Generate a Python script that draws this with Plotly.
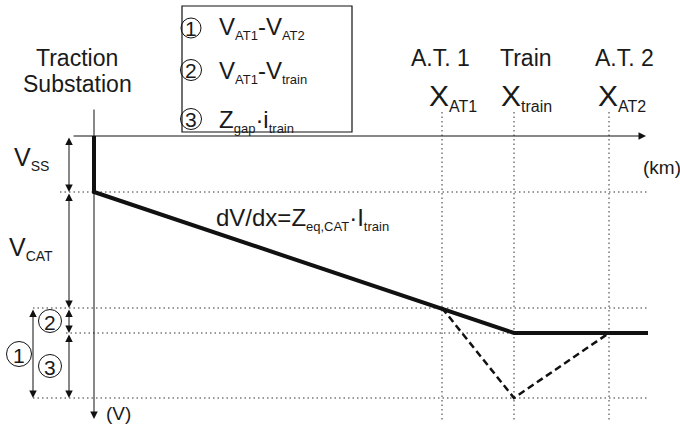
import plotly.graph_objects as go

# ---- schematic data (x in km-like units, y = voltage drop units, downward) ----
station_names = ["A.T. 1", "Train", "A.T. 2"]
station_x = [34.8, 42.0, 51.5]          # X_AT1, X_train, X_AT2
line_end_x = 55.4
v_ss = 5.6        # substation drop
v_at1 = 17.2      # voltage level at AT1
v_train = 19.7    # voltage level at train (AT model)
v_gap = 26.2      # voltage level at train (gap model)

# thick profile
prof_x = [0, 0, station_x[1], line_end_x]
prof_y = [0, v_ss, v_train, v_train]
# dashed profile
dash_x = [station_x[0], station_x[1], station_x[2]]
dash_y = [v_at1, v_gap, v_train]

W, H = 680, 427
X0PX, Y0PX, SC = 94, 136, 10.0
def dx(px):  # pixel -> data x
    return (px - X0PX) / SC
def dy(py):
    return (py - Y0PX) / SC
def px(x):
    return x / W
def py(y):
    return 1 - y / H

FONT = "Liberation Sans"
TC = "#1a1a1a"

fig = go.Figure()

dot = dict(color="#333", width=1, dash="1.5px,3px")
# horizontal dotted levels
for lvl, xs in [(v_ss, dx(60)), (v_at1, dx(33)), (v_train, dx(66)), (v_gap, dx(33))]:
    fig.add_trace(go.Scatter(x=[xs, dx(647)], y=[lvl, lvl], mode="lines", line=dot,
                             hoverinfo="skip", showlegend=False))
# vertical dotted station lines
for sx in station_x:
    fig.add_trace(go.Scatter(x=[sx, sx], y=[dy(112), dy(421)], mode="lines", line=dot,
                             hoverinfo="skip", showlegend=False))

# dashed profile
fig.add_trace(go.Scatter(x=dash_x, y=dash_y, mode="lines",
                         line=dict(color="#111", width=2.5, dash="7px,4px"),
                         hoverinfo="skip", showlegend=False))
# thick profile
fig.add_trace(go.Scatter(x=prof_x, y=prof_y, mode="lines",
                         line=dict(color="#111", width=4),
                         hoverinfo="skip", showlegend=False))

def arrow(x0, y0, x1, y1, both=False):
    fig.add_annotation(x=x1, y=y1, ax=x0, ay=y0, xref="x", yref="y", axref="x", ayref="y",
                       text="", showarrow=True, arrowhead=2, arrowsize=1.5, arrowwidth=1,
                       arrowcolor="#111", standoff=0, startstandoff=0,
                       arrowside="end+start" if both else "end", startarrowhead=2,
                       startarrowsize=1.5)

# axes
arrow(dx(72), 0, dx(646), 0)
arrow(0, dy(108), 0, dy(419))
# dimension arrows
ax1 = dx(69)
arrow(ax1, 0, ax1, v_ss, both=True)
arrow(ax1, v_ss, ax1, v_at1, both=True)
arrow(ax1, v_at1, ax1, v_train, both=True)
arrow(ax1, v_train, ax1, v_gap, both=True)
arrow(dx(33), v_at1, dx(33), v_gap, both=True)

def text(x, y, t, size, xanchor="center"):
    fig.add_annotation(x=px(x), y=py(y), xref="paper", yref="paper", text=t,
                       showarrow=False, xanchor=xanchor, yanchor="middle",
                       font=dict(family=FONT, size=size, color=TC))

def sub(s, size):
    return f"<sub><span style='font-size:{size}px'>{s}</span></sub>"

shapes = []
def circ(cx, cy, r, num, size=21):
    shapes.append(dict(type="circle", xref="paper", yref="paper",
                       x0=px(cx - r), x1=px(cx + r), y0=py(cy + r), y1=py(cy - r),
                       line=dict(color="#111", width=1)))
    text(cx, cy + 1, str(num), size)

# labels
text(77, 58, "Traction", 23)
text(77, 84, "Substation", 23)
for name, cx in zip(station_names, [440, 526, 624]):
    text(cx, 58, name, 23)
for lab, lx in zip(["AT1", "train", "AT2"], [427, 499, 596]):
    text(lx, 97, "X" + sub(lab, 16), 30, xanchor="left")
text(12, 158, "V" + sub("SS", 14), 25, xanchor="left")
text(7, 248, "V" + sub("CAT", 14), 25, xanchor="left")
text(214, 219, "dV/dx=Z" + sub("eq,CAT", 13) + "·I" + sub("train", 13), 24, xanchor="left")
text(662, 167, "(km)", 19)
text(119, 413, "(V)", 19)

# legend box
shapes.append(dict(type="rect", xref="paper", yref="paper", x0=px(182), x1=px(352),
                   y0=py(132), y1=py(6), line=dict(color="#111", width=1.2)))
circ(191, 28, 10, 1)
circ(191, 70, 10.5, 2)
circ(191, 119, 10.5, 3)
text(217, 28, "V" + sub("AT1", 13) + "-V" + sub("AT2", 13), 24, xanchor="left")
text(217, 72, "V" + sub("AT1", 13) + "-V" + sub("train", 13), 24, xanchor="left")
text(217, 121, "Z" + sub("gap", 13) + "·i" + sub("train", 13), 24, xanchor="left")

# left circled numbers
circ(50, 321, 11.5, 2)
circ(19, 354, 12.5, 1)
circ(50, 366, 11.5, 3)

fig.update_layout(
    width=W, height=H, margin=dict(l=0, r=0, t=0, b=0),
    paper_bgcolor="white", plot_bgcolor="white", shapes=shapes,
    xaxis=dict(range=[dx(0), dx(W)], visible=False, fixedrange=True),
    yaxis=dict(range=[dy(H), dy(0)], visible=False, fixedrange=True),
    showlegend=False,
)
fig.write_html("out.html", config={"displayModeBar": False},
               post_script="document.body.style.margin='0px';document.body.style.overflow='hidden';")
